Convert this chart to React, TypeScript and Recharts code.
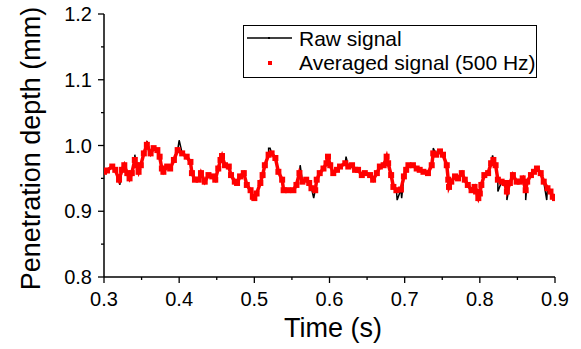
import React from "react";
import { ComposedChart, Line, Scatter, XAxis, YAxis } from "recharts";

// averaged signal (500 Hz)
const avgTime = [
  0.3, 0.304, 0.311, 0.315, 0.32, 0.324, 0.327, 0.331, 0.334, 0.337, 0.341, 0.343, 0.346, 0.349,
  0.353, 0.357, 0.362, 0.366, 0.371, 0.374, 0.377, 0.379, 0.384, 0.388, 0.393, 0.398, 0.404, 0.41,
  0.415, 0.417, 0.421, 0.426, 0.429, 0.434, 0.439, 0.444, 0.448, 0.452, 0.455, 0.457, 0.461, 0.466,
  0.469, 0.474, 0.477, 0.481, 0.486, 0.49, 0.495, 0.498, 0.5, 0.503, 0.508, 0.511, 0.514, 0.519,
  0.523, 0.528, 0.532, 0.537, 0.539, 0.545, 0.552, 0.556, 0.56, 0.564, 0.569, 0.573, 0.576, 0.581,
  0.583, 0.587, 0.592, 0.596, 0.598, 0.601, 0.605, 0.61, 0.614, 0.621, 0.625, 0.63, 0.634, 0.638,
  0.643, 0.647, 0.654, 0.658, 0.663, 0.667, 0.672, 0.676, 0.678, 0.682, 0.685, 0.689, 0.695, 0.699,
  0.702, 0.705, 0.711, 0.716, 0.72, 0.725, 0.731, 0.736, 0.738, 0.742, 0.747, 0.751, 0.756, 0.758,
  0.759, 0.762, 0.767, 0.771, 0.776, 0.78, 0.784, 0.789, 0.793, 0.795, 0.798, 0.8, 0.802, 0.806,
  0.811, 0.815, 0.818, 0.821, 0.824, 0.829, 0.833, 0.836, 0.84, 0.844, 0.849, 0.853, 0.857, 0.861,
  0.863, 0.868, 0.872, 0.876, 0.881, 0.885, 0.89, 0.894, 0.897, 0.9,
];
const avgValue = [
  0.96, 0.962, 0.968, 0.963, 0.948, 0.963, 0.97, 0.958, 0.95, 0.958, 0.978, 0.97, 0.96, 0.97,
  0.988, 1.001, 0.988, 0.996, 0.993, 0.983, 0.965, 0.96, 0.968, 0.965, 0.978, 0.993, 0.988, 0.983,
  0.975, 0.958, 0.948, 0.948, 0.958, 0.945, 0.955, 0.953, 0.948, 0.965, 0.978, 0.984, 0.97, 0.968,
  0.955, 0.945, 0.943, 0.953, 0.958, 0.94, 0.932, 0.922, 0.92, 0.927, 0.943, 0.955, 0.97, 0.986,
  0.988, 0.981, 0.96, 0.948, 0.932, 0.932, 0.932, 0.94, 0.958, 0.945, 0.948, 0.943, 0.935, 0.932,
  0.948, 0.958, 0.965, 0.973, 0.983, 0.97, 0.958, 0.963, 0.968, 0.973, 0.968, 0.97, 0.963, 0.963,
  0.955, 0.958, 0.955, 0.948, 0.958, 0.968, 0.97, 0.983, 0.973, 0.955, 0.937, 0.932, 0.933, 0.953,
  0.963, 0.97, 0.97, 0.965, 0.963, 0.96, 0.958, 0.97, 0.988, 0.986, 0.991, 0.986, 0.97, 0.948,
  0.937, 0.945, 0.953, 0.95, 0.958, 0.948, 0.94, 0.932, 0.937, 0.93, 0.92, 0.927, 0.94, 0.955,
  0.958, 0.973, 0.978, 0.97, 0.948, 0.945, 0.943, 0.93, 0.943, 0.955, 0.945, 0.945, 0.95, 0.932,
  0.945, 0.955, 0.96, 0.965, 0.958, 0.945, 0.935, 0.93, 0.922, 0.92,
];

// raw signal excursions beyond the averaged trace
const spikeTime = [
  0.321, 0.341, 0.357, 0.4, 0.519, 0.521, 0.561, 0.579, 0.622, 0.69, 0.696, 0.738, 0.744, 0.817,
  0.824, 0.836, 0.861, 0.889,
];
const spikeValue = [
  0.94, 0.986, 1.007, 1.008, 0.996, 0.996, 0.97, 0.92, 0.983, 0.917, 0.92, 0.996, 0.993, 0.985,
  0.93, 0.917, 0.917, 0.917,
];

const xTicks = [0.3, 0.35, 0.4, 0.45, 0.5, 0.55, 0.6, 0.65, 0.7, 0.75, 0.8, 0.85, 0.9];
const yTicks = [0.8, 0.85, 0.9, 0.95, 1.0, 1.05, 1.1, 1.15, 1.2];

const FONT = "'Liberation Sans', Arial, sans-serif";

const avgData = avgTime.map((t, i) => ({ t, v: avgValue[i] }));
const rawData = [...avgData, ...spikeTime.map((t, i) => ({ t, v: spikeValue[i] }))].sort(
  (a, b) => a.t - b.t
);

const isMajor = (v: number) => Math.abs(v * 10 - Math.round(v * 10)) < 1e-6;

const BottomTick = (props: any) => {
  const { x, y, payload } = props;
  const major = isMajor(payload.value);
  return (
    <g>
      <line x1={x} x2={x} y1={y} y2={y + (major ? 6 : 3)} stroke="#000" strokeWidth={1.3} />
      {major && (
        <text x={x} y={y + 29} textAnchor="middle" fontSize={20} fontFamily={FONT} fill="#000">
          {payload.value.toFixed(1)}
        </text>
      )}
    </g>
  );
};

const TopTick = (props: any) => {
  const { x, y, payload } = props;
  const major = isMajor(payload.value);
  return <line x1={x} x2={x} y1={y} y2={y - (major ? 6 : 3)} stroke="#000" strokeWidth={1.3} />;
};

const LeftTick = (props: any) => {
  const { x, y, payload } = props;
  const major = isMajor(payload.value);
  return (
    <g>
      <line x1={x} x2={x - (major ? 6 : 3)} y1={y} y2={y} stroke="#000" strokeWidth={1.3} />
      {major && (
        <text x={x - 12} y={y + 7} textAnchor="end" fontSize={20} fontFamily={FONT} fill="#000">
          {payload.value.toFixed(1)}
        </text>
      )}
    </g>
  );
};

const RightTick = (props: any) => {
  const { x, y, payload } = props;
  const major = isMajor(payload.value);
  return <line x1={x} x2={x + (major ? 6 : 3)} y1={y} y2={y} stroke="#000" strokeWidth={1.3} />;
};

const Square = (props: any) => {
  const { cx, cy } = props;
  if (cx == null || cy == null) return null;
  return <rect x={cx - 3} y={cy - 3} width={6} height={6} fill="#ff0000" />;
};

export default function App() {
  return (
    <div
      style={{
        position: "absolute",
        left: 0,
        top: 0,
        width: 581,
        height: 349,
        background: "#fff",
        fontFamily: FONT,
      }}
    >
      <ComposedChart
        width={581}
        height={349}
        margin={{ top: 14, right: 26, bottom: 12, left: 0 }}
      >
        <XAxis
          xAxisId="b"
          dataKey="t"
          type="number"
          domain={[0.3, 0.9]}
          ticks={xTicks}
          interval={0}
          height={60}
          tickSize={0}
          tickMargin={0}
          tickLine={false}
          tick={<BottomTick />}
          axisLine={{ stroke: "#000", strokeWidth: 1.5 }}
          allowDataOverflow
          label={{
            content: () => (
              <text x={333} y={337} textAnchor="middle" fontSize={27} fontFamily={FONT} fill="#000">
                Time (s)
              </text>
            ),
          }}
        />
        <XAxis
          xAxisId="top"
          orientation="top"
          dataKey="t"
          type="number"
          domain={[0.3, 0.9]}
          ticks={xTicks}
          interval={0}
          height={0}
          tickSize={0}
          tickMargin={0}
          tickLine={false}
          tick={<TopTick />}
          axisLine={{ stroke: "#000", strokeWidth: 1.5 }}
          allowDataOverflow
        />
        <YAxis
          yAxisId="l"
          dataKey="v"
          type="number"
          domain={[0.8, 1.2]}
          ticks={yTicks}
          interval={0}
          width={104}
          tickSize={0}
          tickMargin={0}
          tickLine={false}
          tick={<LeftTick />}
          axisLine={{ stroke: "#000", strokeWidth: 1.5 }}
          allowDataOverflow
          label={{
            content: () => (
              <text
                x={0}
                y={0}
                transform="translate(40,148.5) rotate(-90)"
                textAnchor="middle"
                fontSize={27}
                fontFamily={FONT}
                fill="#000"
              >
                Penetration depth (mm)
              </text>
            ),
          }}
        />
        <YAxis
          yAxisId="r"
          orientation="right"
          dataKey="v"
          type="number"
          domain={[0.8, 1.2]}
          ticks={yTicks}
          interval={0}
          width={0}
          tickSize={0}
          tickMargin={0}
          tickLine={false}
          tick={<RightTick />}
          axisLine={{ stroke: "#000", strokeWidth: 1.5 }}
          allowDataOverflow
        />
        <Line
          xAxisId="b"
          yAxisId="l"
          data={rawData}
          dataKey="v"
          type="linear"
          stroke="#000"
          strokeWidth={1.5}
          dot={false}
          isAnimationActive={false}
        />
        <Line
          xAxisId="b"
          yAxisId="l"
          data={avgData}
          dataKey="v"
          type="linear"
          stroke="#ff0000"
          strokeWidth={3.5}
          dot={false}
          isAnimationActive={false}
        />
        <Scatter
          xAxisId="b"
          yAxisId="l"
          data={avgData}
          dataKey="v"
          fill="#ff0000"
          shape={<Square />}
          isAnimationActive={false}
        />
      </ComposedChart>

      <div
        style={{
          position: "absolute",
          left: 243,
          top: 25,
          width: 294,
          height: 53,
          boxSizing: "border-box",
          border: "1px solid #000",
          background: "#fff",
        }}
      >
        <svg width={292} height={51} style={{ position: "absolute", left: 0, top: 0 }}>
          <line x1={3} x2={48} y1={12} y2={12} stroke="#000" strokeWidth={1.3} />
          <rect x={24} y={11} width={2} height={2} fill="#000" />
          <text x={55} y={20} fontSize={21} fontFamily={FONT} fill="#000">
            Raw signal
          </text>
          <rect x={24} y={35} width={4} height={4} fill="#ff0000" />
          <text x={55} y={44} fontSize={21} fontFamily={FONT} fill="#000">
            Averaged signal (500 Hz)
          </text>
        </svg>
      </div>
    </div>
  );
}
